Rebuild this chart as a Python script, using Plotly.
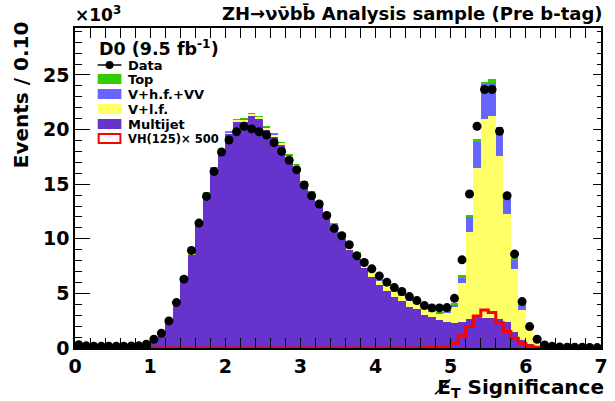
import plotly.graph_objects as go

# ---------------- data (units of 10^3 events per 0.1 bin) ----------------
bin_edges = [round(0.1 * i, 1) for i in range(71)]
bin_centers = [round(0.1 * i + 0.05, 2) for i in range(70)]

data = [0.30, 0.20, 0.17, 0.16, 0.16, 0.16, 0.17, 0.18, 0.20, 0.34,
        0.80, 1.35, 2.48, 4.16, 6.30, 8.93, 11.44, 13.88, 16.15, 17.95,
        19.05, 19.80, 20.30, 20.06, 19.80, 19.50, 18.80, 18.00, 17.19, 16.33,
        14.92, 13.94, 13.18, 12.14, 10.95, 10.28, 9.45, 8.44, 7.83, 7.25,
        6.60, 6.03, 5.53, 5.17, 4.71, 4.34, 3.88, 3.67, 3.67, 3.70,
        4.55, 8.07, 14.10, 20.30, 23.67, 23.67, 19.85, 13.94, 8.60, 4.25,
        1.96, 0.80, 0.28, 0.15, 0.10, 0.08, 0.07, 0.06, 0.05, 0.04]

multijet = [0.02, 0.02, 0.02, 0.02, 0.02, 0.02, 0.02, 0.03, 0.05, 0.15,
            0.65, 1.40, 2.30, 3.90, 6.40, 8.55, 11.35, 14.02, 16.30, 17.92,
            19.60, 20.70, 20.78, 21.30, 21.00, 20.05, 19.40, 18.55, 17.45, 16.50,
            14.90, 13.93, 12.96, 12.00, 10.98, 10.02, 9.00, 8.19, 7.32, 6.46,
            5.74, 5.18, 4.67, 4.26, 3.80, 3.55, 3.04, 2.83, 2.57, 2.41,
            2.26, 2.41, 2.63, 2.80, 2.72, 2.72, 2.63, 2.41, 1.50, 0.73,
            0.37, 0.12, 0.04, 0.01, 0.01, 0.01, 0.01, 0.01, 0.01, 0.01]

v_lf = [0.01, 0.01, 0.01, 0.01, 0.01, 0.01, 0.01, 0.01, 0.01, 0.04,
        0.06, 0.08, 0.09, 0.11, 0.12, 0.12, 0.13, 0.15, 0.17, 0.16,
        0.17, 0.18, 0.18, 0.18, 0.18, 0.18, 0.18, 0.22, 0.22, 0.27,
        0.33, 0.32, 0.37, 0.32, 0.37, 0.47, 0.57, 0.47, 0.57, 0.67,
        0.47, 0.57, 0.47, 0.57, 0.57, 0.52, 0.57, 0.47, 0.57, 0.83,
        1.47, 3.52, 7.95, 13.65, 18.26, 18.50, 14.97, 9.88, 5.72, 2.76,
        1.28, 0.70, 0.30, 0.12, 0.06, 0.04, 0.03, 0.02, 0.02, 0.01]

v_hf_vv = [0.0, 0.0, 0.0, 0.0, 0.0, 0.0, 0.0, 0.0, 0.0, 0.01,
           0.01, 0.01, 0.01, 0.01, 0.02, 0.02, 0.02, 0.02, 0.02, 0.02,
           0.02, 0.02, 0.02, 0.02, 0.02, 0.02, 0.02, 0.03, 0.03, 0.03,
           0.03, 0.03, 0.03, 0.03, 0.03, 0.03, 0.03, 0.03, 0.03, 0.03,
           0.03, 0.03, 0.03, 0.03, 0.03, 0.03, 0.04, 0.05, 0.08, 0.18,
           0.27, 0.55, 1.47, 2.39, 3.15, 3.00, 2.40, 1.59, 0.91, 0.45,
           0.15, 0.08, 0.04, 0.02, 0.01, 0.01, 0.01, 0.01, 0.01, 0.01]

top = [0.0, 0.0, 0.0, 0.0, 0.0, 0.0, 0.0, 0.0, 0.0, 0.0,
       0.0, 0.0, 0.0, 0.0, 0.01, 0.01, 0.01, 0.01, 0.01, 0.01,
       0.01, 0.01, 0.01, 0.01, 0.01, 0.01, 0.01, 0.01, 0.01, 0.01,
       0.01, 0.01, 0.01, 0.01, 0.01, 0.01, 0.01, 0.01, 0.01, 0.01,
       0.01, 0.01, 0.01, 0.01, 0.01, 0.01, 0.02, 0.02, 0.03, 0.04,
       0.05, 0.16, 0.15, 0.30, 0.24, 0.37, 0.25, 0.22, 0.09, 0.09,
       0.03, 0.01, 0.0, 0.0, 0.0, 0.0, 0.0, 0.0, 0.0, 0.0]

vh_x500 = [0.0] * 46 + [0.02, 0.04, 0.06, 0.12,
                        0.43, 1.13, 1.96, 2.94, 3.49, 3.24, 2.32, 1.50, 0.89, 0.43,
                        0.18, 0.08, 0.03, 0.01, 0.01, 0.01, 0.01, 0.01, 0.01, 0.01]

y_ticks = [0, 5, 10, 15, 20, 25]
x_ticks = [0, 1, 2, 3, 4, 5, 6, 7]

# ---------------- styling ----------------
FONT = "DejaVu Sans"
C_MJ = "#6633cc"
C_LF = "#ffff66"
C_HF = "#6666ff"
C_TOP = "#33cc00"

W, H = 615, 401
FL, FR, FT, FB = 75, 608, 28, 348   # frame edges in pixels
L, T, R, B = FL, FT, W - FR, H - FB
PW, PH = FR - FL, FB - FT


def px(x):
    return (x - FL) / PW


def py(y):
    return (FB - y) / PH


fig = go.Figure()
for vals, col, name in [(multijet, C_MJ, "Multijet"), (v_lf, C_LF, "V+l.f."),
                        (v_hf_vv, C_HF, "V+h.f.+VV"), (top, C_TOP, "Top")]:
    fig.add_trace(go.Bar(x=bin_centers, y=vals, width=0.1, name=name,
                         marker=dict(color=col, line=dict(width=0)),
                         showlegend=False))

fig.add_trace(go.Scatter(x=bin_edges, y=vh_x500 + [vh_x500[-1]], mode="lines",
                         line=dict(color="#ff0000", width=3, shape="hv"),
                         showlegend=False, name="VH(125)x500"))

fig.add_trace(go.Scatter(x=bin_centers, y=data, mode="markers",
                         marker=dict(color="black", size=9, symbol="circle"),
                         showlegend=False, name="Data"))

# dummy trace on right axis so it renders
fig.add_trace(go.Scatter(x=[None], y=[None], yaxis="y2", showlegend=False))

YMAX = 29.3
fig.update_layout(
    width=W, height=H,
    margin=dict(l=L, r=R, t=T, b=B),
    paper_bgcolor="white", plot_bgcolor="white",
    barmode="stack", bargap=0,
    showlegend=False,
    font=dict(family=FONT, color="black"),
    xaxis=dict(range=[0, 7], tickvals=x_ticks, ticktext=[str(v) for v in x_ticks],
               ticks="inside", ticklen=10, tickwidth=1, tickcolor="black",
               minor=dict(dtick=0.2, ticks="inside", ticklen=5, tickcolor="black", showgrid=False),
               showline=True, linecolor="black", linewidth=1.5, mirror="allticks",
               showgrid=False, zeroline=False, ticklabelstandoff=0,
               tickfont=dict(family=FONT, size=19, weight="bold")),
    yaxis=dict(range=[0, YMAX], tickvals=y_ticks, ticktext=[str(v) for v in y_ticks],
               ticks="inside", ticklen=15, tickwidth=1, tickcolor="black",
               minor=dict(dtick=1, ticks="inside", ticklen=7, tickcolor="black", showgrid=False),
               showline=True, linecolor="black", linewidth=1.5, mirror=True,
               showgrid=False, zeroline=False,
               tickfont=dict(family=FONT, size=19, weight="bold")),
    yaxis2=dict(range=[0, YMAX], overlaying="y", side="right", showticklabels=False,
                tickvals=y_ticks, ticks="inside", ticklen=8, tickcolor="black",
                minor=dict(dtick=1, ticks="inside", ticklen=4, tickcolor="black", showgrid=False),
                showline=False, showgrid=False, zeroline=False),
)

ann = []
# title
ann.append(dict(text="ZH\u2192\u03bd\u03bd\u0304bb\u0304 Analysis sample (Pre b-tag)",
                x=px(612), y=py(13), xref="paper", yref="paper",
                xanchor="right", yanchor="middle", showarrow=False,
                font=dict(family=FONT, size=18, weight="bold")))
# x10^3
ann.append(dict(text="\u00d710<sup>3</sup>", x=px(73), y=py(14), xref="paper", yref="paper",
                xanchor="left", yanchor="middle", showarrow=False,
                font=dict(family=FONT, size=17, weight="bold")))
# y title
ann.append(dict(text="Events / 0.10", x=px(20), y=py(19), xref="paper", yref="paper",
                xanchor="center", yanchor="top", textangle=-90, showarrow=False,
                font=dict(family=FONT, size=20, weight="bold")))
# x title
ann.append(dict(text="E\u0338<sub>T</sub> Significance", x=px(613), y=py(388), xref="paper", yref="paper",
                xanchor="right", yanchor="middle", showarrow=False,
                font=dict(family=FONT, size=20, weight="bold")))
# D0 label
ann.append(dict(text="D0 (9.5 fb<sup>-1</sup>)", x=px(97), y=py(48), xref="paper", yref="paper",
                xanchor="left", yanchor="middle", showarrow=False,
                font=dict(family=FONT, size=17.5, weight="bold")))

# legend
legend_rows = [("Data", 65, 13), ("Top", 79, 13), ("V+h.f.+VV", 94, 13), ("V+l.f.", 109, 13),
               ("Multijet", 124, 13), ("VH(125)\u00d7 500", 138.5, 11.5)]
legend_cols = {"Top": C_TOP, "V+h.f.+VV": C_HF, "V+l.f.": C_LF, "Multijet": C_MJ}
shapes = []
for label, yc, fs in legend_rows:
    ann.append(dict(text=label, x=px(127), y=py(yc), xref="paper", yref="paper",
                    xanchor="left", yanchor="middle", showarrow=False,
                    font=dict(family=FONT, size=fs, weight="bold")))
    if label == "Data":
        shapes.append(dict(type="line", xref="paper", yref="paper",
                           x0=px(98), x1=px(122), y0=py(yc), y1=py(yc),
                           line=dict(color="black", width=1.5)))
        shapes.append(dict(type="circle", xref="paper", yref="paper",
                           x0=px(106), x1=px(114), y0=py(yc + 4), y1=py(yc - 4),
                           fillcolor="black", line=dict(color="black", width=0)))
    elif label in legend_cols:
        shapes.append(dict(type="rect", xref="paper", yref="paper",
                           x0=px(98), x1=px(122), y0=py(yc + 5), y1=py(yc - 5),
                           fillcolor=legend_cols[label], line=dict(width=0)))
    else:
        shapes.append(dict(type="rect", xref="paper", yref="paper",
                           x0=px(99), x1=px(121), y0=py(yc + 4.5), y1=py(yc - 4.5),
                           fillcolor="white", line=dict(color="#ff0000", width=2)))

fig.update_layout(annotations=ann, shapes=shapes)
fig.write_html("out.html",
               config={"displayModeBar": False},
               post_script="document.body.style.margin='0px';document.body.style.overflow='hidden';")
